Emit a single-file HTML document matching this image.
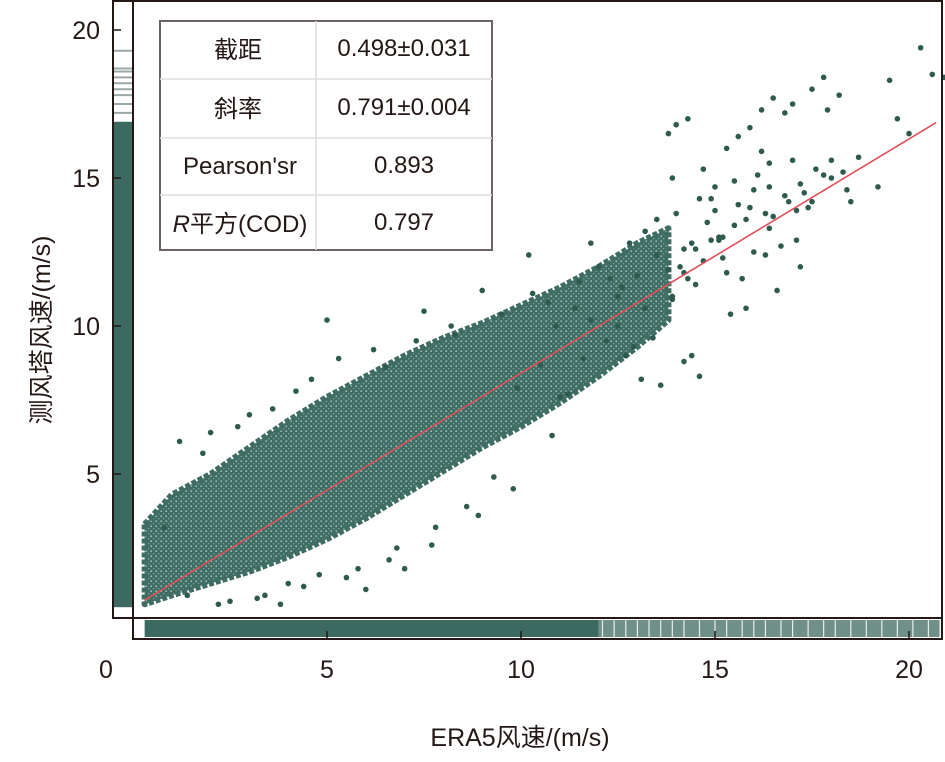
<!DOCTYPE html>
<html><head><meta charset="utf-8">
<style>
body{margin:0;background:#fff;}
svg text{font-family:"Liberation Sans","Noto Sans CJK SC",sans-serif;}
</style></head>
<body>
<svg id="chart" width="945" height="757" viewBox="0 0 945 757" xmlns="http://www.w3.org/2000/svg">
<defs>
<pattern id="speck" width="5" height="5" patternUnits="userSpaceOnUse">
<rect width="5" height="5" fill="#3f6d63"/>
<circle cx="1.2" cy="1.2" r="0.9" fill="#9fbfb7"/>
<circle cx="3.7" cy="3.7" r="0.7" fill="#86aaa1"/>
</pattern>
</defs>
<g id="rugs"></g>
<g id="plot"></g>
<g id="frame"></g>
</svg>
<script>
const ticksX=[5,10,15,20];
const ticksY=[5,10,15,20];
const fitIntercept=0.498, fitSlope=0.791;
const bandX=[0.3,1,2,3,4,5,6,7,8,9,10,11,12,13,13.8];
const bandUpper=[3.3,4.3,5.0,5.9,6.8,7.6,8.3,9.0,9.6,10.1,10.7,11.3,12.0,12.8,13.3];
const bandLower=[0.6,0.9,1.3,1.7,2.2,2.8,3.5,4.3,5.1,5.9,6.6,7.4,8.3,9.3,10.2];
const pointsX=[20.3,20.6,20.9,17.8,17.5,19.5,18.2,16.5,16.8,17.0,15.3,15.6,14.0,14.3,13.8,14.7,15.9,16.2,17.9,18.7,19.7,20.0,18.0,18.3,16.4,16.9,17.3,15.0,15.5,14.9,13.2,13.5,12.8,12.3,11.4,10.9,13.0,14.5,15.1,16.0,16.6,15.8,14.2,13.9,12.6,12.0,11.5,10.7,13.9,15.0,16.1,16.5,14.6,17.2,12.9,5.0,8.2,7.5,9.0,10.2,11.8,12.5,13.4,13.6,14.2,11.0,9.9,10.5,6.5,4.2,3.0,2.0,1.2,0.8,1.8,2.7,3.6,4.6,5.3,6.2,7.3,8.3,9.5,10.3,11.6,12.2,2.2,3.4,4.0,5.8,6.8,7.8,8.6,9.3,1.4,2.5,3.2,4.4,5.5,6.6,7.7,8.9,9.8,10.8,3.8,6.0,7.0,4.8,11.2,12.7,13.1,14.4,15.4,16.3,17.1,18.5,19.2,14.1,14.4,14.8,15.2,15.6,16.0,16.4,16.8,17.2,17.6,18.0,13.9,14.3,14.7,15.1,15.5,15.9,16.3,16.7,17.1,17.5,14.0,14.6,15.2,15.8,16.4,17.0,14.2,14.9,15.7,16.2,17.4,17.8,18.4,13.5,13.8,14.5,15.3,12.5,13.2,11.8];
const pointsY=[19.4,18.5,18.4,18.4,18.0,18.3,17.8,17.7,17.2,17.5,16.0,16.4,16.8,17.0,16.5,15.3,16.7,17.3,17.3,15.7,17.0,16.5,15.6,15.2,14.7,14.2,14.5,13.9,14.9,14.3,13.2,13.6,12.8,11.6,10.6,10.0,11.7,12.6,13.0,12.5,11.2,10.6,11.8,10.9,11.3,12.0,11.5,10.8,15.0,14.7,15.1,13.7,8.3,12.0,9.3,10.2,10.0,10.5,11.2,12.4,12.8,11.0,9.6,8.0,8.8,7.6,7.9,8.7,8.6,7.8,7.0,6.4,6.1,3.2,5.7,6.6,7.2,8.2,8.9,9.2,9.5,9.7,10.4,11.1,8.9,9.5,0.6,0.9,1.3,1.8,2.5,3.2,3.9,4.9,0.9,0.7,0.8,1.2,1.5,2.1,2.6,3.6,4.5,6.3,0.6,1.1,1.8,1.6,7.7,9.0,8.2,9.0,10.4,12.4,12.9,14.2,14.7,12.0,12.8,13.5,13.0,14.1,14.6,13.3,14.4,14.8,15.3,15.0,11.0,11.6,12.2,12.9,13.4,14.0,13.8,12.7,13.9,14.2,13.8,14.3,12.3,13.6,15.5,15.6,12.6,12.9,11.6,15.9,14.0,15.1,14.6,12.4,11.9,11.4,11.8,10.0,10.6,10.2];
const rugXSparse=[12.1,12.4,12.7,13.0,13.3,13.6,13.9,14.2,14.6,15.0,15.3,15.7,16.0,16.3,16.7,17.0,17.4,17.8,18.1,18.5,18.9,19.3,19.7,20.1,20.5,20.8];
const rugYSparse=[17.2,17.5,17.8,18.0,18.2,18.4,18.6,18.7,19.3];

const NS='http://www.w3.org/2000/svg';
const X0=133, PX=38.8, Y0=622, PY=29.6;
const sx=v=>X0+v*PX, sy=v=>Y0-v*PY;
function mk(tag,attrs,parent){const e=document.createElementNS(NS,tag);for(const k in attrs)e.setAttribute(k,attrs[k]);parent.appendChild(e);return e;}
const rugs=document.getElementById('rugs'), plot=document.getElementById('plot'), frame=document.getElementById('frame');

let lr=mk('rect',{x:114,y:sy(16.9),width:19,height:sy(0.5)-sy(16.9),fill:'#3c6a60'},rugs);


rugYSparse.forEach(v=>{const l=mk('line',{x1:114,x2:133,y1:sy(v),y2:sy(v),stroke:'#9aa9a5','stroke-width':2},rugs);

});
let br=mk('rect',{x:sx(0.3),y:620,width:sx(12)-sx(0.3),height:17,fill:'#3c6a60'},rugs);


let br2=mk('rect',{x:sx(12),y:620,width:sx(20.8)-sx(12),height:17,fill:'#6f8f88'},rugs);


rugXSparse.forEach(v=>{const l=mk('line',{x1:sx(v),x2:sx(v),y1:620,y2:637,stroke:'#e8eeec','stroke-width':1.2},rugs);

});

let pts=bandX.map((v,i)=>sx(v)+','+sy(bandUpper[i]));
for(let i=bandX.length-1;i>=0;i--)pts.push(sx(bandX[i])+','+sy(bandLower[i]));
let band=mk('polygon',{points:pts.join(' '),fill:'url(#speck)',stroke:'#3f6d63','stroke-width':6,'stroke-linejoin':'round','stroke-dasharray':'5 2'},plot);


pointsX.forEach((v,i)=>{const c=mk('circle',{cx:sx(v),cy:sy(pointsY[i]),r:2.8,fill:'#2f5a50'},plot);

});
let fit=mk('line',{x1:sx(0.3),y1:sy(fitIntercept+fitSlope*0.3),x2:sx(20.7),y2:sy(fitIntercept+fitSlope*20.7),stroke:'#e0505a','stroke-width':1.6},plot);



[[113,1,20,617],[133,1,809,617],[133,618,809,21]].forEach((r,i)=>{const e=mk('rect',{x:r[0],y:r[1],width:r[2],height:r[3],fill:'none',stroke:'#231815','stroke-width':2},frame);

});
ticksY.forEach(v=>{mk('line',{x1:113,x2:121,y1:sy(v),y2:sy(v),stroke:'#231815','stroke-width':1.5},frame);
const t=mk('text',{x:100,y:sy(v)+9,'text-anchor':'end','font-size':25,fill:'#231815'},frame);t.textContent=v;

});
ticksX.forEach(v=>{mk('line',{x1:sx(v),x2:sx(v),y1:639,y2:631,stroke:'#231815','stroke-width':1.5},frame);
const t=mk('text',{x:sx(v),y:678,'text-anchor':'middle','font-size':25,fill:'#231815'},frame);t.textContent=v;

});
let t0=mk('text',{x:106,y:678,'text-anchor':'middle','font-size':25,fill:'#231815'},frame);t0.textContent='0';


</script>
<svg style="position:absolute;left:0;top:0" width="945" height="757">
<text x="520" y="746" text-anchor="middle" font-size="25" fill="#231815">ERA5风速/(m/s)</text>
<text transform="translate(50,330) rotate(-90)" text-anchor="middle" font-size="25" fill="#231815">测风塔风速/(m/s)</text>
<g>
<rect x="160" y="21" width="332" height="229" fill="#fff" stroke="#6b6461" stroke-width="2"/>
<line x1="316" y1="21" x2="316" y2="250" stroke="#ddd" stroke-width="1.5"/>
<line x1="160" y1="79" x2="492" y2="79" stroke="#ddd" stroke-width="1.5"/>
<line x1="160" y1="138" x2="492" y2="138" stroke="#ddd" stroke-width="1.5"/>
<line x1="160" y1="195" x2="492" y2="195" stroke="#ddd" stroke-width="1.5"/>
<g font-size="24" fill="#231815" text-anchor="middle">
<text x="238" y="58">截距</text>
<text x="404" y="56">0.498±0.031</text>
<text x="238" y="117">斜率</text>
<text x="404" y="115">0.791±0.004</text>
<text x="240" y="174">Pearson'sr</text>
<text x="404" y="173">0.893</text>
<text x="240" y="232"><tspan font-style="italic">R</tspan>平方(COD)</text>
<text x="404" y="230">0.797</text>
</g></g>
</svg>
</body></html>
